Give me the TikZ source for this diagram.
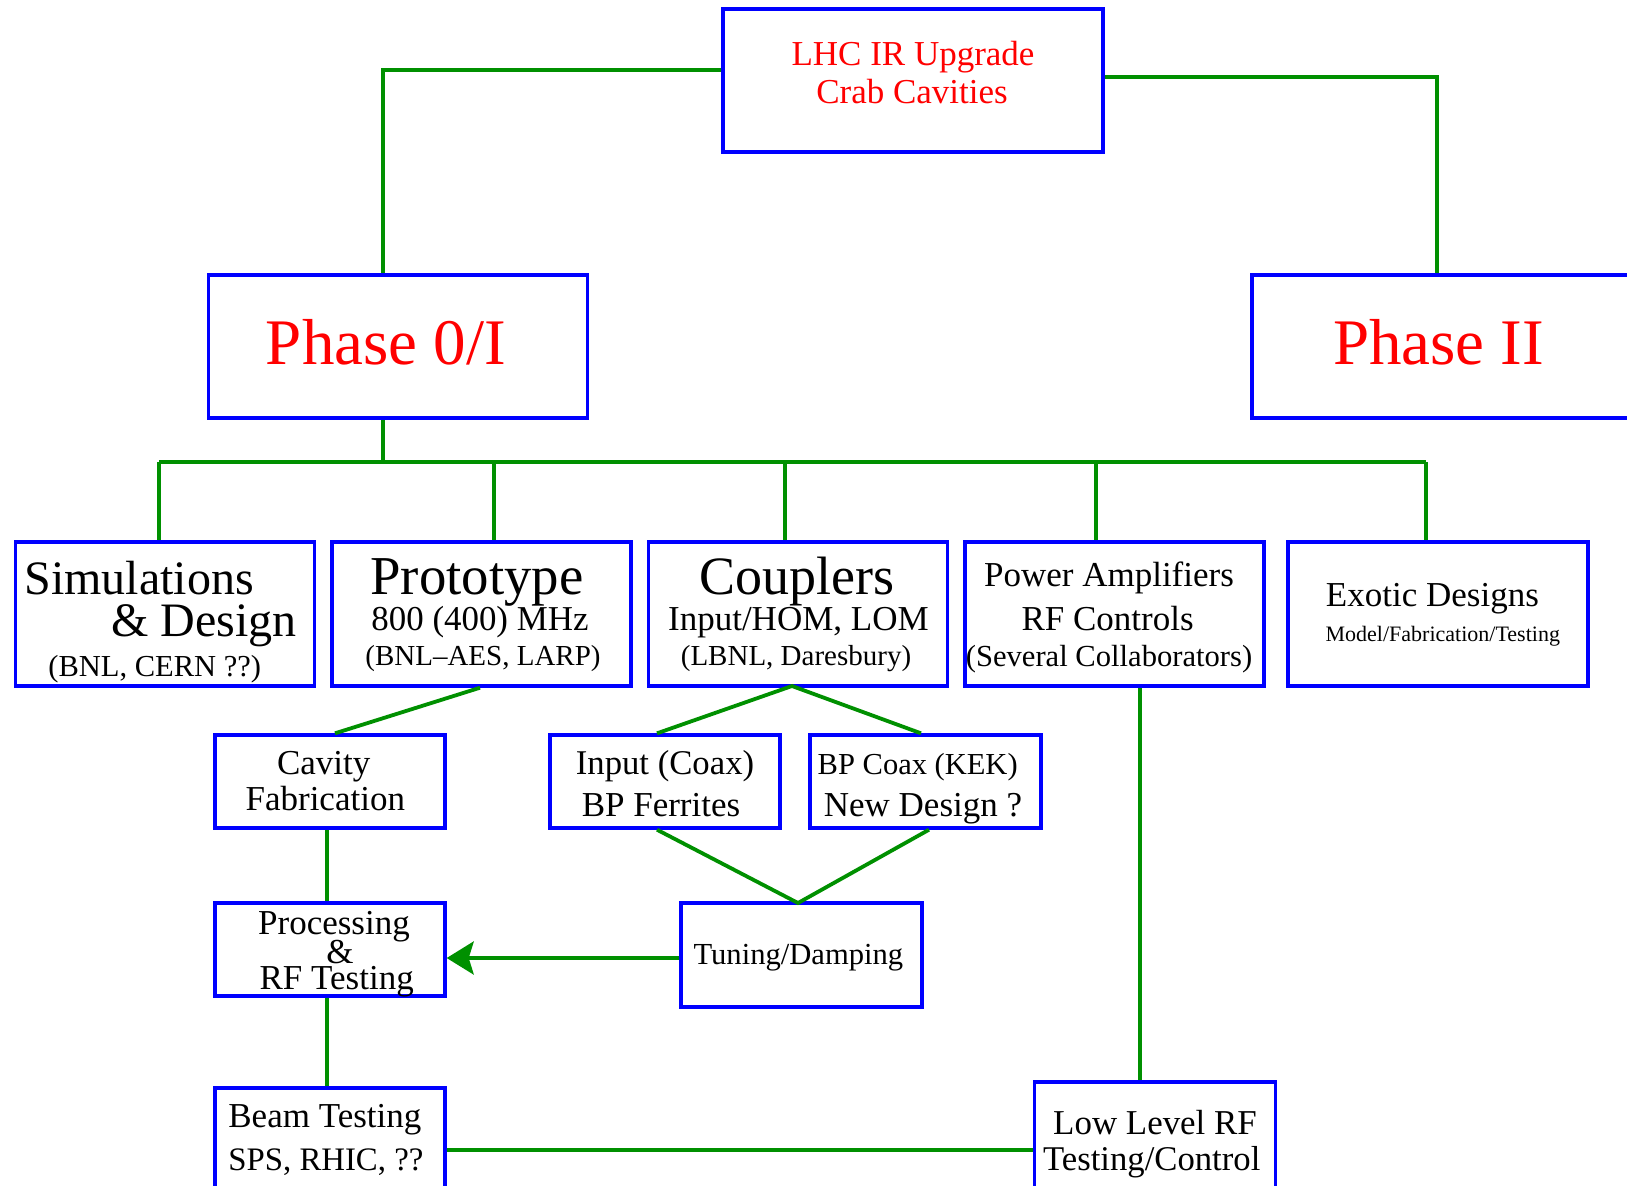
\documentclass[tikz,border=0pt]{standalone}
\usepackage{fontspec}
\setmainfont{Liberation Serif}
\usetikzlibrary{arrows.meta}
\definecolor{lgreen}{RGB}{0,144,0}
\newcommand{\fsz}[1]{\fontsize{#1}{#1}\selectfont}
\begin{document}
\begin{tikzpicture}[x=0.5pt,y=-0.5pt,
  box/.style={draw=blue,line width=1.7pt,rectangle,inner sep=0pt,fill=none},
  link/.style={draw=lgreen,line width=2pt},
  tlink/.style={draw=lgreen,line width=1.9pt},
  txt/.style={anchor=base,inner sep=0pt},
  ltxt/.style={anchor=base west,inner sep=0pt}]
\useasboundingbox (0,0) rectangle (1627,1185);
\clip (0,0) rectangle (1627,1185);
% boxes
\node[box,minimum width=190pt,minimum height=71.5pt] (top) at (913,80.5) {};
\node[box,minimum width=189.75pt,minimum height=71.5pt] (ph0) at (398,346.5) {};
\node[box,minimum width=190pt,minimum height=71.5pt] (ph2) at (1442,346.5) {};
\node[box,minimum width=149.25pt,minimum height=72pt] (sim) at (165,614) {};
\node[box,minimum width=149.5pt,minimum height=72pt] (proto) at (481.5,614) {};
\node[box,minimum width=149.25pt,minimum height=72pt] (coup) at (798,614) {};
\node[box,minimum width=149.5pt,minimum height=72pt] (pow) at (1114.5,614) {};
\node[box,minimum width=150pt,minimum height=72pt] (exo) at (1438,614) {};
\node[box,minimum width=115pt,minimum height=46.5pt] (cav) at (330,781.5) {};
\node[box,minimum width=115pt,minimum height=46.5pt] (inp) at (665,781.5) {};
\node[box,minimum width=115.5pt,minimum height=46.5pt] (bpc) at (925.5,781.5) {};
\node[box,minimum width=115pt,minimum height=46.5pt] (proc) at (330,949.5) {};
\node[box,minimum width=120.5pt,minimum height=52pt] (tun) at (801.5,955) {};
\node[box,minimum width=115pt,minimum height=56pt] (beam) at (330,1144) {};
\node[box,minimum width=120.75pt,minimum height=59pt] (llrf) at (1155,1141) {};
% connectors
\coordinate (busL) at (159,462);
\coordinate (busR) at (1426,462);
\coordinate (bus0) at (383,462);
\coordinate (d2) at (494,462);
\coordinate (d3) at (785,462);
\coordinate (d4) at (1096,462);
\coordinate (apexC) at (792,686);
\coordinate (apexT) at (798,903);
\draw[link] (top.west |- 0,70) -| (ph0.north -| bus0);
\draw[link] (top.east |- 0,77) -| (ph2.north -| 1437,0);
\draw[link] (ph0.south -| bus0) -- (bus0);
\draw[link] (busL) -- (busR);
\draw[link] (busL) -- (sim.north -| busL);
\draw[link] (d2) -- (proto.north -| d2);
\draw[link] (d3) -- (coup.north -| d3);
\draw[link] (d4) -- (pow.north -| d4);
\draw[link] (busR) -- (exo.north -| busR);
\draw[tlink] (proto.south -| 480,0) -- (cav.north -| 335,0);
\draw[tlink] (inp.north -| 657,0) -- (apexC) -- (bpc.north -| 921,0);
\draw[tlink] (inp.south -| 657,0) -- (apexT) -- (bpc.south -| 929,0);
\draw[link] (cav.south -| 327,0) -- (proc.north -| 327,0);
\draw[link] (proc.south -| 327,0) -- (beam.north -| 327,0);
\draw[link] (pow.south -| 1140,0) -- (llrf.north -| 1140,0);
\draw[draw=lgreen,line width=2.25pt] (beam.east |- 0,1150) -- (llrf.west |- 0,1150);
\draw[draw=lgreen,line width=2pt,-{Stealth[length=13.5pt,width=16.5pt,inset=2.5pt]},fill=lgreen] (tun.west |- 0,958) -- (proc.east |- 0,958);
% texts
\node[txt,text=red,font=\fsz{17.5pt}] (t1) at (913,65) {LHC IR Upgrade};
\node[txt,text=red,font=\fsz{17.5pt}] (t2) at (912,103) {Crab Cavities};
\node[txt,text=red,font=\fsz{32.5pt}] (t3) at (386,364) {Phase 0/I};
\node[txt,text=red,font=\fsz{32.5pt}] (t4) at (1438.6,364) {Phase II};
\node[ltxt,font=\fsz{24pt}] (t5) at (24,594) {Simulations};
\node[ltxt,font=\fsz{24pt}] (t6) at (111,636) {\& Design};
\node[ltxt,font=\fsz{15.25pt}] (t7) at (48,676) {(BNL, CERN ??)};
\node[txt,font=\fsz{27.4pt}] (t8) at (477,594) {Prototype};
\node[txt,font=\fsz{17.45pt}] (t9) at (480,630) {800 (400) MHz};
\node[txt,font=\fsz{14.5pt}] (t10) at (483,665) {(BNL–AES, LARP)};
\node[txt,font=\fsz{27pt}] (t11) at (797,594) {Couplers};
\node[txt,font=\fsz{17.5pt}] (t12) at (798.4,630) {Input/HOM, LOM};
\node[txt,font=\fsz{14.5pt}] (t13) at (796,665) {(LBNL, Daresbury)};
\node[txt,font=\fsz{17.5pt}] (t14) at (1109,586) {Power Amplifiers};
\node[txt,font=\fsz{17.5pt}] (t15) at (1107.6,630) {RF Controls};
\node[txt,font=\fsz{15.3pt}] (t16) at (1109,666) {(Several Collaborators)};
\node[txt,font=\fsz{17.5pt}] (t17) at (1432.4,606) {Exotic Designs};
\node[txt,font=\fsz{11pt}] (t18) at (1442.8,641) {Model/Fabrication/Testing};
\node[txt,font=\fsz{17.5pt}] (t19) at (323.7,774) {Cavity};
\node[txt,font=\fsz{17.5pt}] (t20) at (325.3,810) {Fabrication};
\node[txt,font=\fsz{17.35pt}] (t21) at (665,774) {Input (Coax)};
\node[txt,font=\fsz{17.5pt}] (t22) at (661,816) {BP Ferrites};
\node[txt,font=\fsz{15.25pt}] (t23) at (917.7,774) {BP Coax (KEK)};
\node[txt,font=\fsz{17.5pt}] (t24) at (923,816) {New Design ?};
\node[txt,font=\fsz{17.5pt}] (t25) at (334,934) {Processing};
\node[txt,font=\fsz{17.5pt}] (t26) at (340,963) {\&};
\node[txt,font=\fsz{17.5pt}] (t27) at (336.7,989) {RF Testing};
\node[txt,font=\fsz{15.3pt}] (t28) at (798.4,964) {Tuning/Damping};
\node[ltxt,font=\fsz{17.5pt}] (t29) at (228,1127) {Beam Testing};
\node[ltxt,font=\fsz{16.4pt}] (t30) at (228,1170) {SPS, RHIC, ??};
\node[txt,font=\fsz{17.45pt}] (t31) at (1155,1134) {Low Level RF};
\node[txt,font=\fsz{17.35pt}] (t32) at (1151.7,1170) {Testing/Control};
\end{tikzpicture}
\end{document}
